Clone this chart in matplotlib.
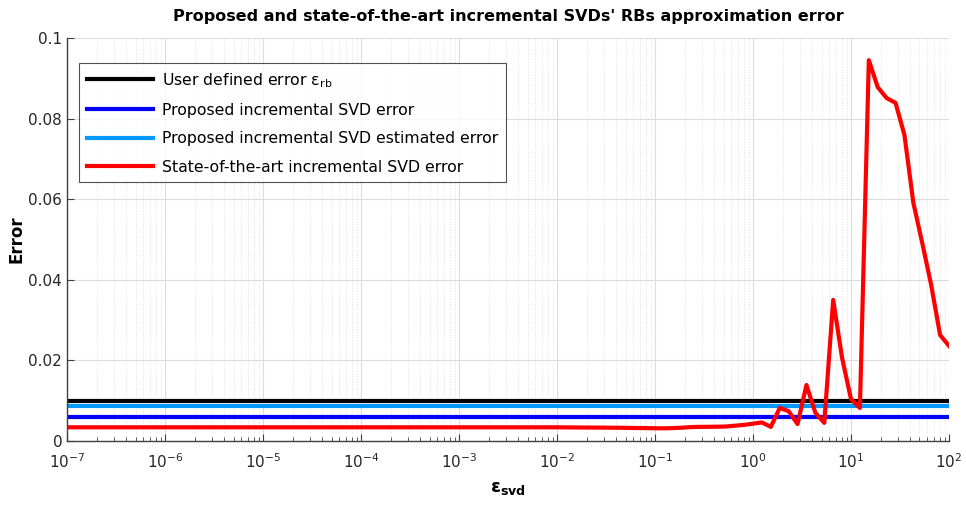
import numpy as np
import matplotlib
matplotlib.use("Agg")
import matplotlib.pyplot as plt
from matplotlib.ticker import FixedLocator, NullFormatter, MultipleLocator, LogFormatterSciNotation

# ---------------- data ----------------
eps_svd = np.logspace(-7, 2, 100)

user_error = 0.010
proposed_error = 0.006
proposed_estimated = 0.0088

state_of_art_error = [
    0.0034, 0.0034, 0.0034, 0.0034, 0.0034, 0.0034, 0.0034, 0.0034, 0.0034, 0.0034,
    0.0034, 0.0034, 0.0034, 0.0034, 0.0034, 0.0034, 0.0034, 0.0034, 0.0034, 0.0034,
    0.0034, 0.0034, 0.0034, 0.0034, 0.0034, 0.0034, 0.0034, 0.0034, 0.0034, 0.0034,
    0.0034, 0.0034, 0.0034, 0.0034, 0.0034, 0.0034, 0.0034, 0.0034, 0.0034, 0.0034,
    0.0034, 0.0034, 0.0034, 0.0034, 0.0034, 0.0034, 0.0034, 0.0034, 0.0034, 0.0034,
    0.0034, 0.0034, 0.0034, 0.0034, 0.0034, 0.0034, 0.00338, 0.00336, 0.00334, 0.00333,
    0.00332, 0.0033, 0.00328, 0.00325, 0.00322, 0.0032, 0.00316, 0.00315, 0.0032, 0.0033,
    0.00345, 0.0035, 0.00352, 0.00355, 0.0036, 0.0038, 0.0040, 0.0043, 0.0046, 0.0035,
    0.0082, 0.0074, 0.0042, 0.0139, 0.0070, 0.0045, 0.0350, 0.0206, 0.0104, 0.0082,
    0.0945, 0.0878, 0.0851, 0.0839, 0.0759, 0.0591, 0.0491, 0.0387, 0.0263, 0.0236,
]

title = "Proposed and state-of-the-art incremental SVDs' RBs approximation error"
labels = [
    r"User defined error ε$_{\mathrm{rb}}$",
    "Proposed incremental SVD error",
    "Proposed incremental SVD estimated error",
    "State-of-the-art incremental SVD error",
]
x_decades = np.arange(-7, 3)

# ---------------- plot ----------------
plt.rcParams['font.family'] = ['DejaVu Sans']
fig = plt.figure(figsize=(9.66, 5.08), dpi=100)
ax = fig.add_axes([0.0694, 0.1319, 0.9130, 0.7933])

n = len(eps_svd)
ax.plot(eps_svd, [user_error] * n, color='black', lw=3, label=labels[0])
ax.plot(eps_svd, [proposed_error] * n, color=(0, 0, 1), lw=3, label=labels[1])
ax.plot(eps_svd, [proposed_estimated] * n, color=(0, 0.6, 1), lw=3, label=labels[2])
ax.plot(eps_svd, state_of_art_error, color=(1, 0, 0), lw=3, label=labels[3])

ax.set_xscale('log')
ax.set_xlim(1e-7, 1e2)
ax.set_ylim(0, 0.1)
ax.yaxis.set_major_locator(MultipleLocator(0.02))
ax.yaxis.set_major_formatter(plt.FuncFormatter(lambda v, p: f"{v:g}"))
major = 10.0 ** x_decades
minor = np.array([m * 10.0 ** d for d in x_decades[:-1] for m in range(2, 10)])
ax.xaxis.set_major_locator(FixedLocator(major))
ax.xaxis.set_major_formatter(LogFormatterSciNotation())
ax.xaxis.set_minor_locator(FixedLocator(minor))
ax.xaxis.set_minor_formatter(NullFormatter())

ax.grid(True, which='major', axis='both', color='#dcdcdc', lw=0.8)
ax.grid(True, which='minor', axis='x', color='#e0e0e0', lw=0.7, ls=':')
ax.set_axisbelow(True)

for s in ['top', 'right']:
    ax.spines[s].set_visible(False)
for s in ['left', 'bottom']:
    ax.spines[s].set_color('#404040')
    ax.spines[s].set_linewidth(1.0)

ax.tick_params(axis='both', which='both', direction='in', colors='#404040',
               labelcolor='#262626', labelsize=11)
ax.tick_params(axis='both', which='major', length=5, width=0.8)
ax.tick_params(axis='x', which='minor', length=3, width=0.6)
ax.tick_params(axis='x', which='major', pad=8)

ax.set_title(title, fontsize=11.5, fontweight='bold', pad=12)
ax.set_xlabel(r"ε$_{\mathbf{svd}}$", fontsize=13, fontweight='bold', labelpad=6)
ax.set_ylabel("Error", fontsize=12, fontweight='bold', labelpad=2)

leg = ax.legend(loc='upper left', bbox_to_anchor=(0.0136, 0.938), borderaxespad=0,
                fancybox=False, frameon=True, edgecolor='#262626', fontsize=11.3,
                handlelength=4.2, labelspacing=0.85, borderpad=0.5, handletextpad=0.6)
leg.get_frame().set_linewidth(0.8)

fig.savefig("out.png", dpi=100)
